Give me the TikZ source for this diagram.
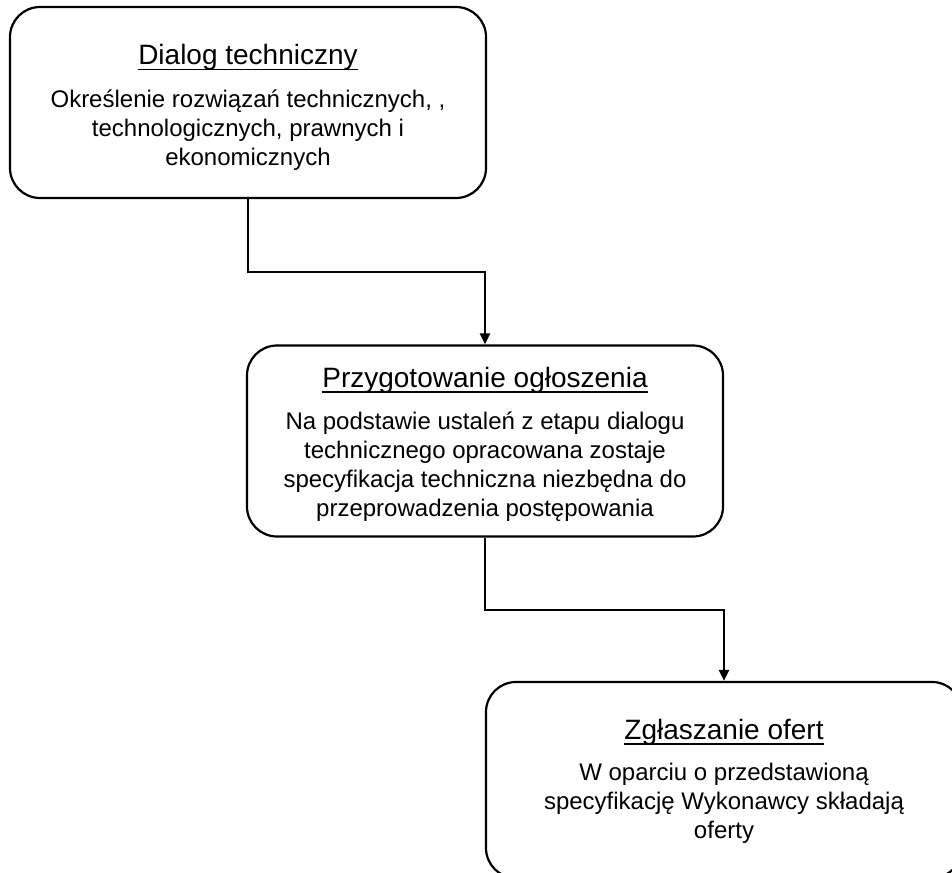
\documentclass[tikz,border=0pt]{standalone}
\usepackage{fontspec}
\setmainfont{Liberation Sans}
\usetikzlibrary{arrows.meta}
\newcommand\myul[1]{\setbox0\hbox{#1}\rlap{\rule[-5.5pt]{\wd0}{1.6pt}}\box0}
\begin{document}
\begin{tikzpicture}[x=1pt,y=-1pt,
  box/.style={draw=black,line width=2.2pt,rounded corners=30pt,minimum width=476pt,minimum height=191pt,inner sep=0pt},
  ttl/.style={anchor=base,inner sep=0pt,font=\fontsize{28}{34}\selectfont},
  bdy/.style={anchor=base,inner sep=0pt,align=center,font=\fontsize{24}{28.7}\selectfont},
  arr/.style={line width=2.2pt,-{Triangle[length=11pt,width=10pt]}}]
\useasboundingbox (0,0) rectangle (952,872);
\clip (0,0) rectangle (952,872);
\node[box] (b1) at (248,102.5) {};
\node[box] (b2) at (485,441) {};
\node[box,minimum height=196pt] (b3) at (724,780) {};
\node[ttl] (t1) at (248,65) {\myul{Dialog techniczny}};
\node[bdy] (d1) at (248,165) {Określenie rozwiązań technicznych, ,\\technologicznych, prawnych i\\ekonomicznych};
\node[ttl] (t2) at (485,387) {\myul{Przygotowanie ogłoszenia}};
\node[bdy] (d2) at (485,516) {Na podstawie ustaleń z etapu dialogu\\technicznego opracowana zostaje\\specyfikacja techniczna niezbędna do\\przeprowadzenia postępowania};
\node[ttl] (t3) at (724,739) {\myul{Zgłaszanie ofert}};
\node[bdy] (d3) at (724,838) {W oparciu o przedstawioną\\specyfikację Wykonawcy składają\\oferty};
\draw[arr] (b1.south) -- ++(0,73) -| (b2.north);
\draw[arr] (b2.south) -- ++(0,72) -| (b3.north);
\end{tikzpicture}
\end{document}
